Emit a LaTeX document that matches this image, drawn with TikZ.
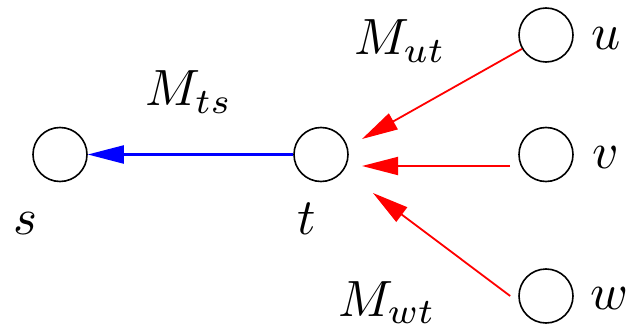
\documentclass[tikz,border=0pt]{standalone}
\usepackage{amsmath}
\usetikzlibrary{arrows.meta}
\begin{document}
\begin{tikzpicture}[
    x=1pt, y=-1pt,
    vnode/.style={draw, circle, line width=1.6pt, minimum size=54pt, inner sep=0pt},
    lnode/.style={draw=none, scale=5.1, inner sep=0pt, anchor=base},
    blarrow/.style={-{Triangle[length=36pt,width=18pt]}, blue, line width=2.2pt},
    rdarrow/.style={-{Triangle[length=36pt,width=18pt]}, red, line width=1.8pt}
]
\useasboundingbox (0,0) rectangle (632,329);
% --- vertices ---
\foreach \n/\x/\y in {s/60/154.5, t/321/154.5, u/546/35, v/546/154.5, w/546/296} {
    \node[vnode] (\n) at (\x, \y) {};
}
% --- vertex labels ---
\node[lnode] (ls) at (25, 234) {$s$};
\node[lnode] (lt) at (307, 234) {$t$};
\foreach \n/\x/\y in {u/606/50, v/606/168, w/609/309} {
    \node[lnode] (l\n) at (\x, \y) {$\n$};
}
% --- message labels ---
\node[lnode] (mts) at (189, 106) {$M_{ts}$};
\node[lnode] (mut) at (400, 55) {$M_{ut}$};
\node[lnode] (mwt) at (387, 316) {$M_{wt}$};
% --- arrow ends near t ---
\coordinate (tu) at (362, 139);
\coordinate (tv) at (362, 166);
\coordinate (tw) at (373, 193);
% --- arrows ---
\draw[blarrow] (t.west) -- (s.east);
\draw[rdarrow] (u.210) -- (tu);
\draw[rdarrow] ([xshift=-8pt,yshift=-11.5pt]v.west) -- (tv);
\draw[rdarrow] ([xshift=-8pt]w.west) -- (tw);
\end{tikzpicture}
\end{document}
